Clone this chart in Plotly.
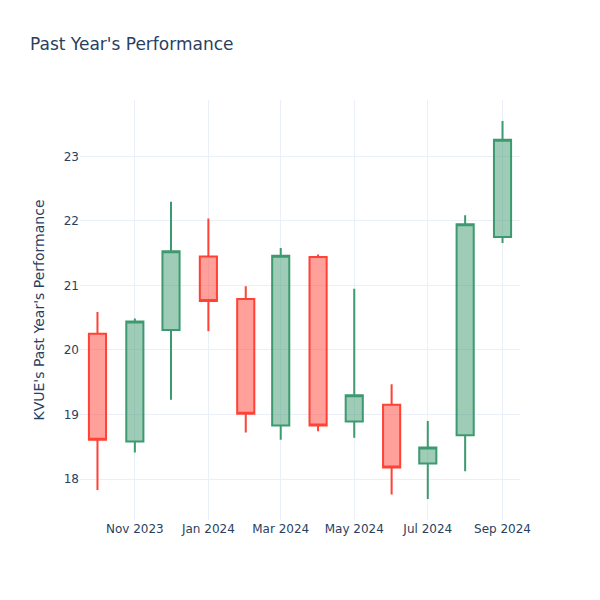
import plotly.graph_objects as go

dates = ["2023-10-01", "2023-11-01", "2023-12-01", "2024-01-01", "2024-02-01", "2024-03-01",
         "2024-04-01", "2024-05-01", "2024-06-01", "2024-07-01", "2024-08-01", "2024-09-01"]
open_ = [20.25, 18.58, 20.31, 21.45, 20.79, 18.83, 21.44, 18.89, 19.15, 18.24, 18.68, 21.75]
high = [20.59, 20.49, 22.30, 22.04, 20.99, 21.58, 21.48, 20.95, 19.47, 18.90, 22.09, 23.55]
low = [17.83, 18.41, 19.23, 20.29, 18.72, 18.61, 18.74, 18.64, 17.76, 17.69, 18.12, 21.66]
close = [18.61, 20.44, 21.53, 20.76, 19.01, 21.46, 18.83, 19.30, 18.18, 18.49, 21.95, 23.26]

fig = go.Figure(go.Candlestick(x=dates, open=open_, high=high, low=low, close=close))
fig.update_layout(
    template="plotly_white",
    width=600, height=600,
    font=dict(family="DejaVu Sans"),
    title=dict(text="Past Year's Performance"),
    yaxis_title="KVUE's Past Year's Performance",
    xaxis_rangeslider_visible=False,
)
fig.write_html("out.html", config={"displayModeBar": False},
               post_script="document.body.style.margin='0';")
